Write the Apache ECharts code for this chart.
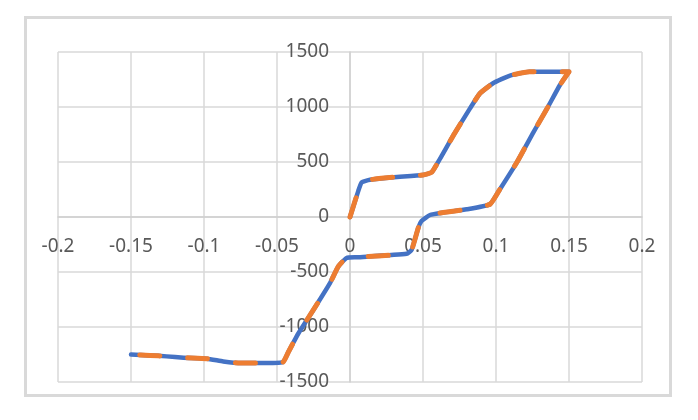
<!DOCTYPE html>
<html>
<head>
<meta charset="utf-8">
<script src="https://cdn.jsdelivr.net/npm/echarts@6/dist/echarts.min.js"></script>
<style>
html,body{margin:0;padding:0;background:#fff;}
#chart{width:698px;height:420px;}
</style>
</head>
<body>
<div id="chart"></div>
<script>
// Hysteresis loop (x = strain, y = stress)
var loopX = [0, 0.0057, 0.008, 0.0137, 0.03, 0.050, 0.056, 0.0616, 0.0708, 0.0822, 0.089, 0.098, 0.1096, 0.123, 0.15,
             0.1438, 0.1347, 0.1256, 0.1142, 0.1027, 0.0959, 0.0799, 0.0639, 0.0548, 0.049, 0.0468, 0.0423, 0.0388,
             0.0046, -0.0023, -0.008, -0.0137, -0.0251, -0.0354, -0.0422, -0.046, -0.0616, -0.0753, -0.0868, -0.098,
             -0.114, -0.1256, -0.137, -0.15];
var loopY = [0, 238, 315, 339, 362, 382, 407, 528, 742, 987, 1124, 1216, 1286, 1320, 1320,
             1200, 980, 770, 495, 253, 116, 70, 40, 18, -37, -97, -296, -335,
             -366, -372, -449, -601, -845, -1059, -1227, -1319, -1328, -1328, -1313, -1288,
             -1279, -1267, -1258, -1250];
var xTicks = {min: -0.2, max: 0.2, interval: 0.05};
var yTicks = {min: -1500, max: 1500, interval: 500};

function pairs(xs, ys) { return xs.map(function (x, i) { return [x, ys[i]]; }); }

var GRID = {left: 58, top: 52, width: 584, height: 330};
var chart = echarts.init(document.getElementById('chart'), null, {renderer: 'canvas'});
var labelStyle = {color: '#595959', fontSize: 19, fontFamily: 'Noto Sans'};
// place each axis at the zero of the other axis
var xZeroOffset = -GRID.height * (0 - yTicks.min) / (yTicks.max - yTicks.min);
var yZeroOffset = -GRID.width * (0 - xTicks.min) / (xTicks.max - xTicks.min);
chart.setOption({
  animation: false,
  backgroundColor: '#ffffff',
  graphic: [{
    type: 'rect', silent: true, z: -10,
    shape: {x: 25.5, y: 17.5, width: 645, height: 378},
    style: {fill: 'none', stroke: '#d9d9d9', lineWidth: 3}
  }],
  grid: {left: GRID.left, top: GRID.top, width: GRID.width, height: GRID.height, outerBoundsMode: 'none', containLabel: false},
  xAxis: {
    type: 'value', min: xTicks.min, max: xTicks.max, interval: xTicks.interval,
    position: 'bottom', offset: xZeroOffset,
    axisLine: {show: true, onZero: false, lineStyle: {color: '#d0d0d0', width: 1.5}},
    axisTick: {show: false},
    axisLabel: Object.assign({margin: 20, showMinLabel: true, showMaxLabel: true,
      formatter: function (v) { return String(+v.toFixed(4)); }}, labelStyle),
    splitLine: {show: true, lineStyle: {color: '#d9d9d9', width: 1.5}}
  },
  yAxis: {
    type: 'value', min: yTicks.min, max: yTicks.max, interval: yTicks.interval,
    position: 'left', offset: yZeroOffset,
    axisLine: {show: true, onZero: false, lineStyle: {color: '#d0d0d0', width: 1.5}},
    axisTick: {show: false},
    axisLabel: Object.assign({margin: 21, showMinLabel: true, showMaxLabel: true,
      formatter: function (v) { return String(v); }}, labelStyle),
    splitLine: {show: true, lineStyle: {color: '#d9d9d9', width: 1.5}}
  },
  series: [
    {
      name: 'Series1', type: 'line', data: pairs(loopX, loopY), symbol: 'none', z: 2, smooth: 0.15,
      lineStyle: {color: '#4472C4', width: 4.5, cap: 'round', join: 'round'}
    },
    {
      name: 'Series2', type: 'line', data: pairs(loopX, loopY), symbol: 'none', z: 3, smooth: 0.15,
      lineStyle: {color: '#ED7D31', width: 5, type: [20, 28], cap: 'round', join: 'round'}
    }
  ]
});
</script>
</body>
</html>
